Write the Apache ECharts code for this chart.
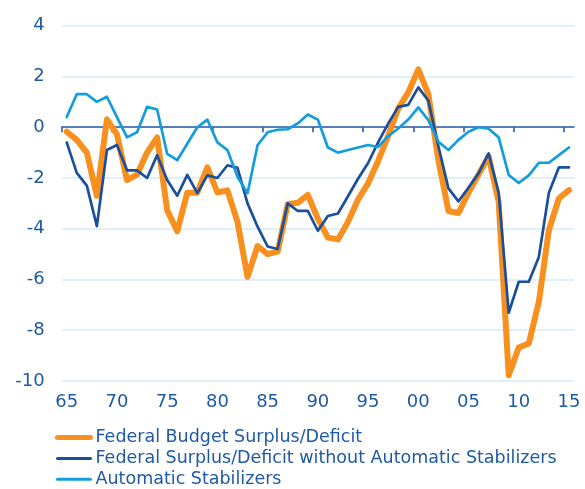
<!DOCTYPE html>
<html><head><meta charset="utf-8">
<script src="https://cdn.jsdelivr.net/npm/echarts@6/dist/echarts.min.js"></script>
<style>html,body{margin:0;padding:0;background:#fff}#c{width:585px;height:489px}</style>
</head><body><div id="c"></div>
<script>
const years = [1965,1966,1967,1968,1969,1970,1971,1972,1973,1974,1975,1976,1977,1978,1979,1980,1981,1982,1983,1984,1985,1986,1987,1988,1989,1990,1991,1992,1993,1994,1995,1996,1997,1998,1999,2000,2001,2002,2003,2004,2005,2006,2007,2008,2009,2010,2011,2012,2013,2014,2015];
const tickYears = [1965,1970,1975,1980,1985,1990,1995,2000,2005,2010,2015];
const yTicks = [-10,-8,-6,-4,-2,0,2,4];
const seriesNames = ['Federal Budget Surplus/Deficit','Federal Surplus/Deficit without Automatic Stabilizers','Automatic Stabilizers'];
const budget = [-0.18,-0.5,-1.0,-2.7,0.31,-0.28,-2.08,-1.87,-1.0,-0.4,-3.27,-4.1,-2.58,-2.58,-1.58,-2.57,-2.49,-3.73,-5.9,-4.68,-5.0,-4.9,-3.03,-2.98,-2.67,-3.6,-4.35,-4.42,-3.73,-2.85,-2.21,-1.33,-0.34,0.73,1.37,2.28,1.3,-1.3,-3.3,-3.38,-2.57,-1.86,-1.15,-2.94,-9.77,-8.68,-8.52,-6.88,-4.05,-2.8,-2.48];
const withoutStab = [-0.6,-1.8,-2.3,-3.9,-0.9,-0.7,-1.7,-1.7,-2.0,-1.1,-2.08,-2.7,-1.88,-2.6,-1.9,-2.0,-1.5,-1.6,-3.0,-3.92,-4.7,-4.8,-3.0,-3.3,-3.3,-4.08,-3.5,-3.4,-2.72,-2.03,-1.41,-0.6,0.14,0.8,0.88,1.57,1.05,-0.75,-2.41,-2.92,-2.38,-1.82,-1.03,-2.58,-7.31,-6.09,-6.09,-5.11,-2.58,-1.58,-1.58];
const stabilizers = [0.4,1.3,1.3,1.0,1.2,0.4,-0.4,-0.2,0.8,0.7,-1.05,-1.3,-0.65,0.0,0.3,-0.6,-0.9,-1.95,-2.6,-0.7,-0.2,-0.1,-0.08,0.15,0.5,0.3,-0.8,-1.0,-0.9,-0.8,-0.7,-0.78,-0.35,-0.05,0.3,0.78,0.28,-0.57,-0.9,-0.5,-0.18,0.0,-0.06,-0.4,-1.88,-2.2,-1.9,-1.4,-1.4,-1.1,-0.8];

const textColor = '#1f5aa6';
const font = 'DejaVu Sans';
const colors = ['#f7901e', '#1a4f9c', '#149ddd'];
const widths = [6, 2.7, 2.7];
const legendWidths = [5, 3, 3];
const dataSets = [budget, withoutStab, stabilizers];

const chart = echarts.init(document.getElementById('c'), null, {renderer: 'canvas'});
chart.setOption({
  animation: false,
  backgroundColor: '#ffffff',
  grid: {left: 61.7, right: 11, top: 25.7, bottom: 108},
  legend: {
    data: seriesNames.map((name, i) => ({
      name: name,
      lineStyle: {width: legendWidths[i], color: colors[i], cap: 'round'}
    })),
    orient: 'vertical',
    left: 55, top: 428.5, height: 80, width: 540,
    padding: 0,
    itemWidth: 33, itemHeight: 18, itemGap: 2.9,
    itemStyle: {opacity: 0},
    textStyle: {fontSize: 17.5, color: textColor, fontFamily: font}
  },
  xAxis: [{
    type: 'category',
    data: years.map(String),
    boundaryGap: true,
    position: 'bottom',
    axisLine: {show: false, onZero: false},
    axisTick: {show: false},
    splitLine: {show: false},
    axisLabel: {interval: 4, formatter: v => v.slice(2), color: textColor, fontSize: 18, fontFamily: font, margin: 12}
  }, {
    type: 'value',
    min: years[0], max: years[years.length - 1] + 1,
    position: 'bottom',
    axisLine: {show: true, onZero: true, lineStyle: {color: '#2a5ba3', width: 1.6}},
    axisTick: {show: true, customValues: tickYears, length: 5, inside: false, lineStyle: {color: '#2a5ba3', width: 1.6}},
    axisLabel: {show: false},
    splitLine: {show: false}
  }],
  yAxis: {
    type: 'value', min: -10, max: 4, interval: 2,
    axisLine: {show: false}, axisTick: {show: false},
    axisLabel: {customValues: yTicks, color: textColor, fontSize: 18, fontFamily: font, margin: 17},
    splitLine: {lineStyle: {color: '#d3edf9', width: 1.5}}
  },
  series: seriesNames.map((name, i) => ({
    name: name,
    type: 'line',
    xAxisIndex: 0,
    data: dataSets[i],
    symbol: 'none',
    color: colors[i],
    lineStyle: {width: widths[i], color: colors[i], cap: 'round', join: 'round'},
    z: 2 + i
  }))
});
</script></body></html>
